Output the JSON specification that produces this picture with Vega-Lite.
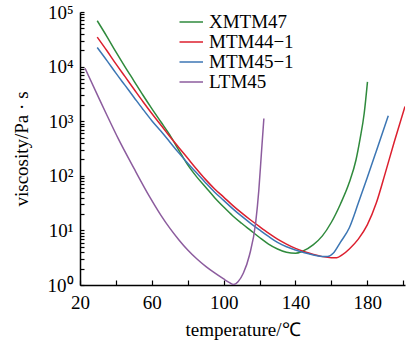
{
  "$schema": "https://vega.github.io/schema/vega-lite/v6.json",
  "autosize": "none",
  "width": 325,
  "height": 273,
  "padding": {"left": 80, "top": 12, "right": 7, "bottom": 58},
  "background": "white",
  "config": {
    "view": {"stroke": null},
    "font": "Liberation Serif",
    "axis": {
      "grid": false,
      "ticks": true,
      "domainColor": "black",
      "domainWidth": 1.5,
      "tickColor": "black",
      "tickWidth": 1.2,
      "labelColor": "black",
      "titleColor": "black",
      "labelFont": "Liberation Serif",
      "titleFont": "Liberation Serif",
      "titleFontWeight": "normal",
      "labelFontSize": 19,
      "titleFontSize": 19
    },
    "legend": {"labelFont": "Liberation Serif"}
  },
  "data": {
    "values": [
      {"T": 29.6, "v": 69200, "s": "XMTM47"},
      {"T": 35, "v": 35500, "s": "XMTM47"},
      {"T": 40, "v": 18600, "s": "XMTM47"},
      {"T": 45, "v": 10000, "s": "XMTM47"},
      {"T": 50, "v": 5500, "s": "XMTM47"},
      {"T": 55, "v": 3020, "s": "XMTM47"},
      {"T": 60, "v": 1700, "s": "XMTM47"},
      {"T": 65, "v": 977, "s": "XMTM47"},
      {"T": 70, "v": 562, "s": "XMTM47"},
      {"T": 75, "v": 295, "s": "XMTM47"},
      {"T": 80, "v": 158, "s": "XMTM47"},
      {"T": 85, "v": 95.5, "s": "XMTM47"},
      {"T": 90, "v": 61.7, "s": "XMTM47"},
      {"T": 95, "v": 39.8, "s": "XMTM47"},
      {"T": 100, "v": 26.9, "s": "XMTM47"},
      {"T": 105, "v": 18.6, "s": "XMTM47"},
      {"T": 110, "v": 13.5, "s": "XMTM47"},
      {"T": 115, "v": 10.0, "s": "XMTM47"},
      {"T": 120, "v": 7.41, "s": "XMTM47"},
      {"T": 125, "v": 5.62, "s": "XMTM47"},
      {"T": 130, "v": 4.57, "s": "XMTM47"},
      {"T": 135, "v": 3.98, "s": "XMTM47"},
      {"T": 140, "v": 3.80, "s": "XMTM47"},
      {"T": 144, "v": 4.17, "s": "XMTM47"},
      {"T": 150, "v": 5.50, "s": "XMTM47"},
      {"T": 155, "v": 7.94, "s": "XMTM47"},
      {"T": 160, "v": 14.1, "s": "XMTM47"},
      {"T": 165, "v": 30.2, "s": "XMTM47"},
      {"T": 170, "v": 75.9, "s": "XMTM47"},
      {"T": 173.7, "v": 195, "s": "XMTM47"},
      {"T": 176, "v": 479, "s": "XMTM47"},
      {"T": 178.3, "v": 1413, "s": "XMTM47"},
      {"T": 180.1, "v": 5248, "s": "XMTM47"},

      {"T": 29.6, "v": 34700, "s": "MTM44−1"},
      {"T": 35, "v": 19500, "s": "MTM44−1"},
      {"T": 40, "v": 11220, "s": "MTM44−1"},
      {"T": 45, "v": 6607, "s": "MTM44−1"},
      {"T": 50, "v": 3890, "s": "MTM44−1"},
      {"T": 55, "v": 2291, "s": "MTM44−1"},
      {"T": 60, "v": 1380, "s": "MTM44−1"},
      {"T": 65, "v": 851, "s": "MTM44−1"},
      {"T": 70, "v": 525, "s": "MTM44−1"},
      {"T": 75, "v": 331, "s": "MTM44−1"},
      {"T": 80, "v": 209, "s": "MTM44−1"},
      {"T": 85, "v": 132, "s": "MTM44−1"},
      {"T": 90, "v": 85.1, "s": "MTM44−1"},
      {"T": 95, "v": 57.5, "s": "MTM44−1"},
      {"T": 100, "v": 40.7, "s": "MTM44−1"},
      {"T": 105, "v": 28.8, "s": "MTM44−1"},
      {"T": 110, "v": 20.9, "s": "MTM44−1"},
      {"T": 115, "v": 15.5, "s": "MTM44−1"},
      {"T": 120, "v": 11.7, "s": "MTM44−1"},
      {"T": 125, "v": 8.91, "s": "MTM44−1"},
      {"T": 130, "v": 6.92, "s": "MTM44−1"},
      {"T": 135, "v": 5.62, "s": "MTM44−1"},
      {"T": 140, "v": 4.68, "s": "MTM44−1"},
      {"T": 145, "v": 4.07, "s": "MTM44−1"},
      {"T": 150, "v": 3.63, "s": "MTM44−1"},
      {"T": 155, "v": 3.31, "s": "MTM44−1"},
      {"T": 160, "v": 3.16, "s": "MTM44−1"},
      {"T": 163, "v": 3.16, "s": "MTM44−1"},
      {"T": 166, "v": 3.55, "s": "MTM44−1"},
      {"T": 170, "v": 4.57, "s": "MTM44−1"},
      {"T": 175, "v": 6.92, "s": "MTM44−1"},
      {"T": 180, "v": 12.6, "s": "MTM44−1"},
      {"T": 185, "v": 31.6, "s": "MTM44−1"},
      {"T": 190, "v": 112, "s": "MTM44−1"},
      {"T": 195, "v": 417, "s": "MTM44−1"},
      {"T": 201, "v": 1862, "s": "MTM44−1"},

      {"T": 29.6, "v": 22400, "s": "MTM45−1"},
      {"T": 35, "v": 12882, "s": "MTM45−1"},
      {"T": 40, "v": 7586, "s": "MTM45−1"},
      {"T": 45, "v": 4571, "s": "MTM45−1"},
      {"T": 50, "v": 2754, "s": "MTM45−1"},
      {"T": 55, "v": 1660, "s": "MTM45−1"},
      {"T": 60, "v": 1023, "s": "MTM45−1"},
      {"T": 65, "v": 661, "s": "MTM45−1"},
      {"T": 70, "v": 417, "s": "MTM45−1"},
      {"T": 75, "v": 263, "s": "MTM45−1"},
      {"T": 80, "v": 170, "s": "MTM45−1"},
      {"T": 85, "v": 112, "s": "MTM45−1"},
      {"T": 90, "v": 74.1, "s": "MTM45−1"},
      {"T": 95, "v": 50.1, "s": "MTM45−1"},
      {"T": 100, "v": 35.5, "s": "MTM45−1"},
      {"T": 105, "v": 25.1, "s": "MTM45−1"},
      {"T": 110, "v": 18.2, "s": "MTM45−1"},
      {"T": 115, "v": 13.5, "s": "MTM45−1"},
      {"T": 120, "v": 10.2, "s": "MTM45−1"},
      {"T": 125, "v": 7.76, "s": "MTM45−1"},
      {"T": 130, "v": 6.03, "s": "MTM45−1"},
      {"T": 135, "v": 5.01, "s": "MTM45−1"},
      {"T": 140, "v": 4.37, "s": "MTM45−1"},
      {"T": 145, "v": 3.89, "s": "MTM45−1"},
      {"T": 150, "v": 3.55, "s": "MTM45−1"},
      {"T": 155, "v": 3.31, "s": "MTM45−1"},
      {"T": 158, "v": 3.31, "s": "MTM45−1"},
      {"T": 161, "v": 3.80, "s": "MTM45−1"},
      {"T": 165, "v": 6.03, "s": "MTM45−1"},
      {"T": 170, "v": 11.2, "s": "MTM45−1"},
      {"T": 175, "v": 31.6, "s": "MTM45−1"},
      {"T": 180, "v": 93.3, "s": "MTM45−1"},
      {"T": 185, "v": 282, "s": "MTM45−1"},
      {"T": 191.7, "v": 1259, "s": "MTM45−1"},

      {"T": 22.8, "v": 9330, "s": "LTM45"},
      {"T": 30, "v": 2884, "s": "LTM45"},
      {"T": 35, "v": 1288, "s": "LTM45"},
      {"T": 41.3, "v": 479, "s": "LTM45"},
      {"T": 50, "v": 138, "s": "LTM45"},
      {"T": 58.9, "v": 40.7, "s": "LTM45"},
      {"T": 65, "v": 19.1, "s": "LTM45"},
      {"T": 70, "v": 11.0, "s": "LTM45"},
      {"T": 75, "v": 6.76, "s": "LTM45"},
      {"T": 80, "v": 4.37, "s": "LTM45"},
      {"T": 85, "v": 3.02, "s": "LTM45"},
      {"T": 90, "v": 2.19, "s": "LTM45"},
      {"T": 95, "v": 1.66, "s": "LTM45"},
      {"T": 100, "v": 1.29, "s": "LTM45"},
      {"T": 103, "v": 1.12, "s": "LTM45"},
      {"T": 105.5, "v": 1.02, "s": "LTM45"},
      {"T": 108, "v": 1.15, "s": "LTM45"},
      {"T": 111, "v": 1.66, "s": "LTM45"},
      {"T": 114.4, "v": 3.55, "s": "LTM45"},
      {"T": 117.8, "v": 13.5, "s": "LTM45"},
      {"T": 119.6, "v": 55.0, "s": "LTM45"},
      {"T": 121, "v": 251, "s": "LTM45"},
      {"T": 122.4, "v": 1122, "s": "LTM45"}
    ]
  },
  "mark": {"type": "line", "strokeWidth": 1.5, "interpolate": "monotone", "clip": true},
  "encoding": {
    "x": {
      "field": "T",
      "type": "quantitative",
      "scale": {"domain": [20, 201], "nice": false, "zero": false},
      "axis": {
        "title": "temperature/℃",
        "values": [20, 40, 60, 80, 100, 120, 140, 160, 180, 200],
        "labelExpr": "(datum.value - 20) % 40 == 0 ? datum.label : ''",
        "ticks": true,
        "tickSize": -5,
        "labelPadding": 13,
        "titlePadding": 8,
        "labelFlush": false,
        "labelOverlap": false
      }
    },
    "y": {
      "field": "v",
      "type": "quantitative",
      "scale": {"type": "log", "domain": [1, 100000], "nice": false},
      "axis": {
        "title": "viscosity/Pa · s",
        "values": [1,2,3,4,5,6,7,8,9,10,20,30,40,50,60,70,80,90,100,200,300,400,500,600,700,800,900,1000,2000,3000,4000,5000,6000,7000,8000,9000,10000,20000,30000,40000,50000,60000,70000,80000,90000,100000],
        "labelExpr": "abs(log(datum.value)/LN10 - round(log(datum.value)/LN10)) < 0.001 ? '10' + ['⁰','¹','²','³','⁴','⁵'][round(log(datum.value)/LN10)] : ''",
        "ticks": true,
        "tickSize": -4,
        "labelPadding": 11,
        "titlePadding": 16,
        "labelFlush": false,
        "labelOverlap": false
      }
    },
    "color": {
      "field": "s",
      "type": "nominal",
      "sort": ["XMTM47", "MTM44−1", "MTM45−1", "LTM45"],
      "scale": {
        "domain": ["XMTM47", "MTM44−1", "MTM45−1", "LTM45"],
        "range": ["#2f8a3c", "#dc1f2e", "#3c76b4", "#8c5c9e"]
      },
      "legend": {
        "title": null,
        "orient": "none",
        "legendX": 99.5,
        "legendY": 0,
        "symbolType": "M-1.25,0H1.25",
        "symbolSize": 400,
        "symbolStrokeWidth": 1.5,
        "clipHeight": 20,
        "labelFont": "Liberation Serif",
        "labelFontSize": 19,
        "labelColor": "black",
        "labelOffset": 7.5,
        "rowPadding": 0,
        "padding": 0
      }
    }
  }
}
